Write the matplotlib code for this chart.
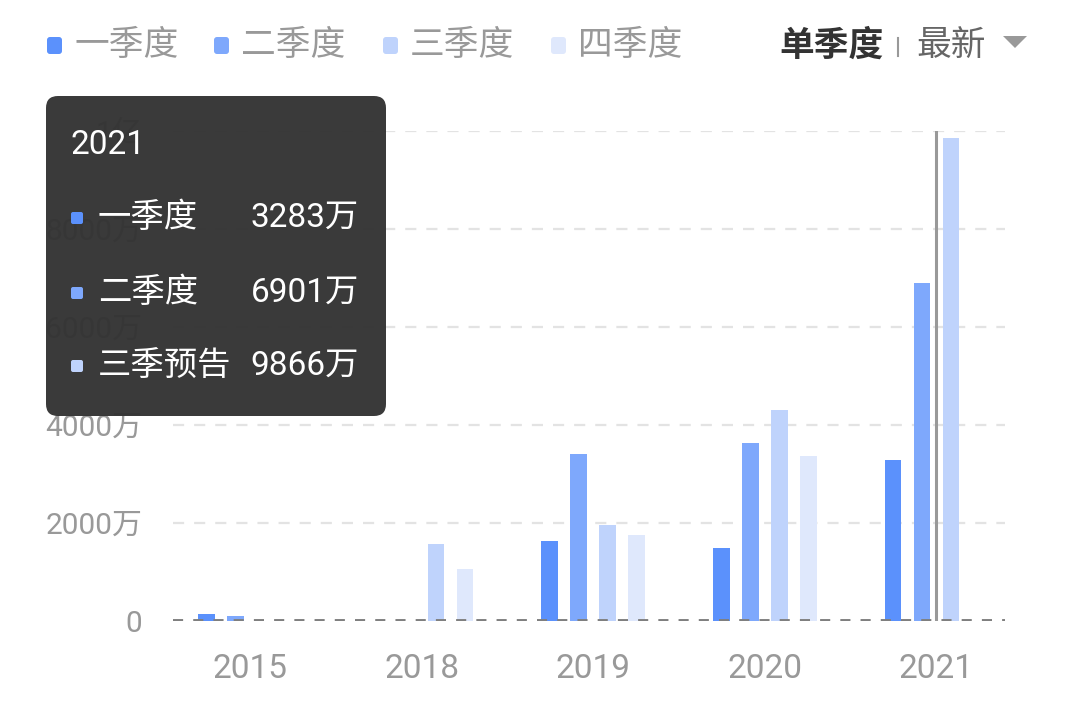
import numpy as np
import matplotlib
matplotlib.use("Agg")
import matplotlib.pyplot as plt
from matplotlib.patches import FancyBboxPatch, Polygon

# =====================
# Data (units: 万)
# =====================
years = ["2015", "2018", "2019", "2020", "2021"]
q1 = [139, np.nan, 1639, 1482, 3283]
q2 = [111, np.nan, 3403, 3624, 6901]
q3 = [np.nan, 1576, 1951, 4314, 9866]
q4 = [np.nan, 1056, 1757, 3373, np.nan]
series_names = ["一季度", "二季度", "三季度", "四季度"]
colors = ["#5b91fc", "#7ea8fc", "#bfd3fc", "#dfe8fc"]
y_ticks = [0, 2000, 4000, 6000, 8000, 10000]
y_labels = ["0", "2000万", "4000万", "6000万", "8000万", "1亿"]
tip_title = "2021"
tip_names = ["一季度", "二季度", "三季预告"]
tip_values = ["3283万", "6901万", "9866万"]

plt.rcParams["font.family"] = ["Roboto", "Noto Sans CJK SC", "DejaVu Sans"]

W, H = 1080, 704
fig = plt.figure(figsize=(W / 100, H / 100), dpi=100)

# =====================
# Main axes
# =====================
ax = fig.add_axes([173 / W, 83 / H, 832 / W, 490 / H])
x = np.arange(len(years))
step = 0.169
width = 0.097
for i, vals in enumerate([q1, q2, q3, q4]):
    ax.bar(x + (i - 1.5) * step, vals, width=width, color=colors[i], zorder=2)

ax.set_xlim(-0.449, 4.40)
ax.set_ylim(0, 10000)
for t in y_ticks[1:]:
    ax.axhline(t, color="#e3e3e3", lw=1.6, dashes=(5, 4.5), zorder=1)
ax.axhline(0, color="#7f7f7f", lw=2.8, dashes=(2.6, 2.6), zorder=3)

# cursor line at 2021
ax.plot([4, 4], [0, 10000], color="#999999", lw=2.2, zorder=4)

ax.set_yticks(y_ticks)
ax.set_yticklabels(y_labels)
ax.set_xticks(x)
ax.set_xticklabels(years)
ax.tick_params(axis="y", length=0, pad=22, labelsize=21.5, labelcolor="#999999")
ax.tick_params(axis="x", length=0, pad=23, labelsize=24, labelcolor="#999999")
for s in ax.spines.values():
    s.set_visible(False)

# =====================
# Overlay in pixel coords (legend, toggle, tooltip)
# =====================
ov = fig.add_axes([0, 0, 1, 1], zorder=10)
ov.set_xlim(0, W)
ov.set_ylim(H, 0)
ov.axis("off")
ov.patch.set_alpha(0)

leg_x = [47, 214, 383, 551]
for lx, name, c in zip(leg_x, series_names, colors):
    ov.add_patch(FancyBboxPatch((lx, 37), 15, 17, boxstyle="round,pad=0,rounding_size=3",
                                facecolor=c, edgecolor="none"))
    ov.text(lx + 27, 46, name, fontsize=25, color="#999999", va="center", ha="left")

ov.text(779, 46, "单季度", fontsize=25, color="#333333", va="center", ha="left",
        fontweight="bold")
ov.plot([898, 898], [38, 56], color="#999999", lw=1.5)
ov.text(916, 46, "最新", fontsize=25, color="#666666", va="center", ha="left")
ov.add_patch(Polygon([[1003, 36], [1027, 36], [1015, 48]], closed=True,
                     facecolor="#999999", edgecolor="none"))

# tooltip
ov.add_patch(FancyBboxPatch((46, 96), 340, 320, boxstyle="round,pad=0,rounding_size=12",
                            facecolor="#333333", edgecolor="none", alpha=0.97))
ov.text(70, 145, tip_title, fontsize=24, color="white", va="center", ha="left")
row_y = [218, 293, 366]
for ry, name, val, c in zip(row_y, tip_names, tip_values, colors):
    ov.add_patch(FancyBboxPatch((71, ry - 6), 12, 12, boxstyle="round,pad=0,rounding_size=2",
                                facecolor=c, edgecolor="none"))
    ov.text(98, ry, name, fontsize=24, color="white", va="center", ha="left")
    ov.text(359, ry, val, fontsize=24, color="white", va="center", ha="right")

fig.savefig("out.png", dpi=100, facecolor="white")
